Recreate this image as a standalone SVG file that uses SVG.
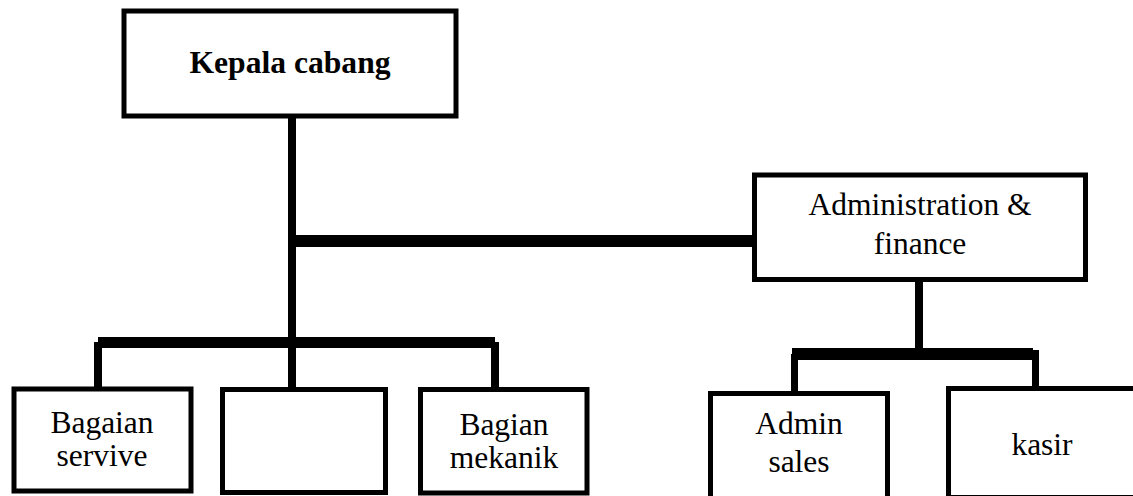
<svg xmlns="http://www.w3.org/2000/svg" width="1133" height="496" viewBox="0 0 1133 496">
<style>
.box{fill:#fff;stroke:#000;stroke-width:5}
.t{font-family:"Liberation Serif","Times New Roman",serif;font-size:31.5px;fill:#000;text-anchor:middle}
.b{font-weight:bold;font-size:31.6px}
.c{fill:#000}
</style>
<rect width="1133" height="496" fill="#fff"/>
<g id="connectors">
<rect class="c" x="288" y="114" width="8" height="276"/>
<rect class="c" x="292" y="235" width="462" height="12"/>
<rect class="c" x="98" y="337" width="397" height="11"/>
<rect class="c" x="94" y="342" width="8" height="48"/>
<rect class="c" x="491" y="342" width="8" height="48"/>
<rect class="c" x="915" y="278" width="8" height="72"/>
<rect class="c" x="792" y="348" width="241" height="12"/>
<rect class="c" x="791" y="354" width="7" height="43"/>
<rect class="c" x="1032" y="350" width="7" height="37"/>
</g>
<g id="kepala">
<rect class="box" x="124" y="11" width="332" height="105"/>
<text class="t b" x="290" y="73">Kepala cabang</text>
</g>
<g id="admin-finance">
<rect class="box" x="754.5" y="175" width="331" height="104.5"/>
<text class="t" x="920" y="215">Administration &amp;</text>
<text class="t" x="920" y="254">finance</text>
</g>
<g id="bagaian-servive">
<rect class="box" x="14" y="389" width="177" height="102"/>
<text class="t" x="102" y="433">Bagaian</text>
<text class="t" x="102" y="466">servive</text>
</g>
<g id="empty">
<rect class="box" x="222.5" y="389.5" width="163" height="103"/>
</g>
<g id="bagian-mekanik">
<rect class="box" x="420.5" y="389.5" width="166.5" height="103.5"/>
<text class="t" x="504" y="435">Bagian</text>
<text class="t" x="504" y="468">mekanik</text>
</g>
<g id="admin-sales">
<rect class="box" x="710.5" y="393.5" width="177" height="110"/>
<text class="t" x="799" y="434">Admin</text>
<text class="t" x="799" y="472">sales</text>
</g>
<g id="kasir">
<rect class="box" x="948.5" y="388.5" width="200" height="109"/>
<text class="t" x="1042" y="455">kasir</text>
</g>
</svg>
